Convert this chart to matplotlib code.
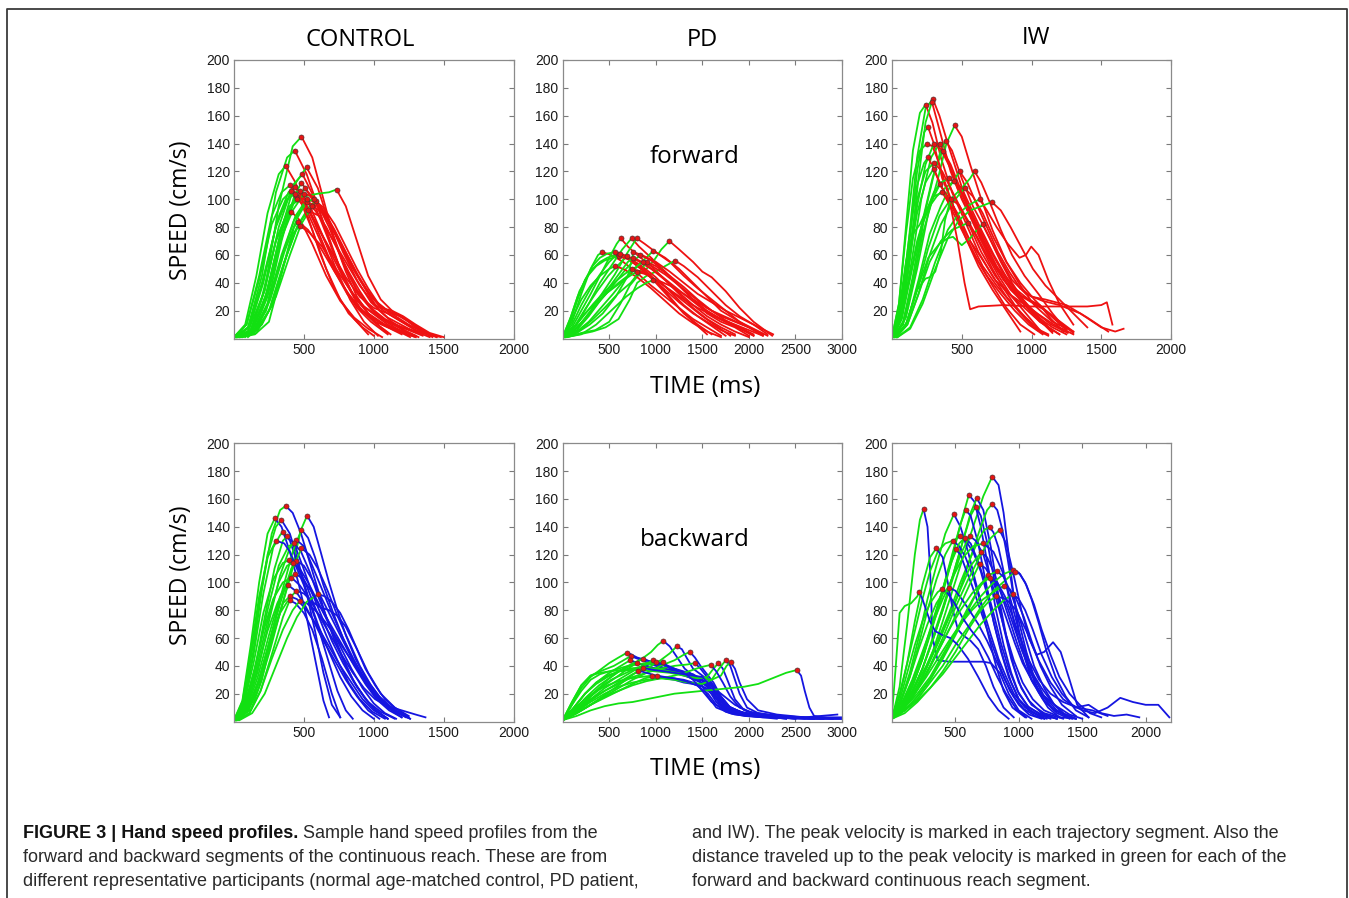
import matplotlib
matplotlib.use("Agg")
import matplotlib.pyplot as plt
import numpy as np
from matplotlib.lines import Line2D

# ---------------- data ----------------
# Each curve: list of times (ms) and matching speeds (cm/s)
CTRL_FWD_T = [
    [20,120,220,320,420,483,560,640,720,800,880,960,1040,1120],
    [10,100,200,300,380,435,520,600,700,800,900,1000,1100],
    [0,80,160,240,320,370,440,520,620,720,820,920,1000],
    [30,130,230,330,430,519,600,690,790,890,990,1100,1250],
    [20,120,220,320,420,490,570,660,760,860,960,1060,1200],
    [40,140,240,340,430,483,560,660,760,860,960,1080,1300],
    [0,100,200,300,400,500,600,680,734,800,880,960,1050,1150,1250,1350,1450],
    [30,130,230,330,430,509,590,680,780,880,980,1080,1200,1350],
    [10,110,210,310,390,435,500,580,680,780,880,980,1100],
    [40,140,240,340,410,447,520,610,710,810,910,1010,1150,1300],
    [60,160,260,360,460,540,590,680,780,880,980,1100,1250,1400],
    [20,120,220,300,370,411,480,560,660,760,860,960,1060],
    [80,180,280,380,430,459,530,620,720,820,920,1020,1150,1300],
    [50,150,250,350,420,470,540,630,730,830,930,1030,1150,1300,1480],
    [100,200,300,400,480,560,640,740,840,940,1040,1140,1250,1400],
    [10,110,210,310,400,470,540,630,730,830,930,1030],
    [30,130,230,330,430,520,600,700,800,900,1000,1100,1200,1300,1420],
    [50,150,250,350,450,530,610,700,800,900,1000,1100,1200,1350],
    [0,90,180,270,340,400,470,560,660,760,860,960],
    [20,120,220,320,400,450,520,600,700,800,900,1000,1100,1200,1300,1450],
    [40,140,240,340,440,520,580,650,730,810,890,970,1050,1130,1210,1300,1400,1500],
    [0,100,200,300,380,440,500,580,660,740,820,900,980,1060,1150,1250],
    [60,160,260,360,450,520,570,640,720,800,880,960,1040,1120,1200,1280,1380],
    [30,130,230,330,420,500,560,640,720,800,880,960,1040,1130,1220,1320],
    [0,90,180,270,350,410,470,540,620,700,780,860,940,1020,1100,1180,1260],
]
CTRL_FWD_V = [
    [1,6,35,95,138,145,130,100,70,48,30,18,9,3],
    [1,8,45,105,130,135,118,95,65,40,22,12,4],
    [1,10,45,90,118,124,112,90,60,35,18,8,2],
    [1,5,30,75,110,123,108,80,52,32,20,12,4],
    [1,6,35,80,110,118,102,78,50,30,18,10,3],
    [1,4,25,70,102,112,100,75,50,30,18,10,2],
    [1,5,30,70,95,102,104,105,107,95,70,45,28,18,12,6,1],
    [1,6,30,70,98,108,98,80,55,35,22,14,8,2],
    [1,8,40,85,105,109,100,82,58,38,22,12,3],
    [1,5,30,72,96,102,92,72,50,32,20,12,6,1],
    [1,4,22,55,82,95,99,85,62,42,26,15,7,1],
    [1,6,35,70,88,91,84,68,45,27,15,7,1],
    [1,8,25,62,80,84,78,65,48,32,20,13,6,1],
    [1,3,12,50,75,81,76,66,50,35,23,16,10,5,1],
    [1,10,30,60,82,95,90,72,52,36,24,17,10,2],
    [1,8,42,85,103,106,96,75,50,28,12,2],
    [1,4,20,55,85,98,95,80,60,42,28,20,16,8,1],
    [1,5,20,52,80,92,88,72,55,38,25,18,12,3],
    [1,10,45,88,105,110,100,78,50,28,14,3],
    [1,5,28,70,95,100,94,80,62,44,30,22,18,12,6,1],
    [1,5,25,60,88,100,98,90,75,60,45,32,22,20,16,10,4,1],
    [1,8,40,80,100,104,100,92,80,64,48,34,22,14,8,2],
    [1,6,28,62,86,98,100,94,82,66,50,36,24,18,16,10,3],
    [1,7,32,70,92,104,102,92,78,62,46,32,20,12,6,1],
    [1,10,42,82,100,106,102,92,76,60,44,30,22,16,10,5,1],
]

PD_FWD_T = [
    [0,100,200,300,380,426,520,650,800,950,1100,1250,1400,1550,1700],
    [0,100,200,300,400,500,580,623,700,800,950,1100,1250,1400,1550,1700,1850],
    [20,150,280,400,520,640,741,820,950,1100,1250,1400,1550,1700,1850,2000],
    [30,160,300,430,560,680,795,880,1000,1150,1300,1450,1600,1750,1900,2050,2200],
    [50,200,350,500,620,720,820,900,980,1060,1146,1250,1400,1500,1600,1750,1900,2050,2250],
    [0,120,240,360,480,600,720,850,974,1100,1250,1400,1550,1700,1850,2000,2150],
    [40,180,320,460,600,720,800,900,1000,1100,1207,1300,1450,1600,1750,1900,2050,2200],
    [0,100,200,300,400,500,591,700,850,1000,1150,1300,1450,1600,1750],
    [10,130,250,370,490,600,688,800,950,1100,1250,1400,1550,1700,1850,2000],
    [20,150,280,410,540,680,830,950,1100,1250,1400,1550,1700,1850,2000,2150],
    [0,100,200,300,400,500,562,650,800,950,1100,1250,1400,1550,1700],
    [30,170,310,450,590,730,850,902,1000,1150,1300,1450,1600,1750,1900,2050],
    [0,120,240,360,480,600,700,795,900,1050,1200,1350,1500,1650,1800],
    [0,90,180,270,360,450,540,600,700,850,1000,1150,1300,1450,1600],
    [10,150,290,430,570,700,760,850,1000,1150,1300,1450,1600,1750,1900,2050,2200,2260],
    [0,110,220,330,440,550,660,740,850,1000,1150,1300,1450,1600,1750,1900,2050],
    [40,200,360,520,680,800,900,974,1050,1150,1300,1450,1600,1800,2000,2150],
    [0,80,160,240,320,400,480,560,660,800,950,1100,1250,1400,1550],
    [0,80,160,240,320,400,480,560,620,700,800,950,1100,1250,1400,1550,1700,1850],
    [0,120,240,360,480,600,700,760,850,1000,1150,1300,1450,1600,1750,1900,2050],
    [20,150,280,410,540,660,760,860,960,1100,1250,1400,1550,1700,1850,2000,2150],
]
PD_FWD_V = [
    [1,12,32,50,60,62,60,55,47,38,30,22,14,8,2],
    [1,8,20,32,45,58,68,72,66,60,52,42,32,22,14,8,3],
    [1,10,25,40,52,64,72,66,58,48,38,28,18,12,8,2],
    [1,8,20,33,46,60,72,68,62,55,45,36,28,20,12,7,2],
    [1,4,6,12,25,38,46,50,56,64,70,64,55,48,44,34,22,12,2],
    [1,6,14,24,33,40,46,55,63,58,50,40,30,20,14,8,3],
    [1,3,5,8,14,28,40,45,48,52,56,52,44,34,24,16,10,3],
    [1,10,24,36,46,55,61,58,52,44,34,24,16,9,2],
    [1,9,22,34,45,53,59,56,50,42,33,24,16,10,5,1],
    [1,6,16,28,38,50,60,56,48,38,28,20,14,10,6,2],
    [1,14,28,38,45,50,52,50,44,36,27,18,11,5,1],
    [1,5,13,22,32,40,50,55,52,45,37,28,20,13,8,3],
    [1,8,18,26,33,39,44,48,46,40,32,24,16,9,2],
    [1,16,34,45,52,56,58,59,57,50,40,29,18,10,3],
    [1,4,10,18,30,45,62,60,55,48,40,32,26,20,15,10,5,3],
    [1,7,16,25,33,40,46,50,48,42,35,28,22,17,12,8,2],
    [1,3,10,20,30,36,40,42,41,38,32,26,20,14,8,2],
    [1,12,28,42,52,58,61,62,60,54,45,34,22,12,3],
    [1,14,30,42,50,55,58,60,61,58,52,44,35,26,18,12,6,2],
    [1,6,14,24,35,46,55,58,55,48,40,32,24,17,12,7,2],
    [1,5,12,22,32,42,50,55,52,46,38,30,22,16,12,8,3],
]

IW_FWD_T = [
    [0,60,120,180,240,293,340,400,480,560,650,750,850,950,1050,1150,1250],
    [0,50,100,150,200,241,290,350,430,520,620,720,820,920,1020,1120],
    [10,70,130,190,240,286,340,420,500,600,700,800,900,1000,1100,1200,1300],
    [0,60,120,180,230,258,300,360,440,520,620,720,820,920,1020],
    [20,100,180,260,330,390,449,500,560,640,720,820,920,1020,1150,1300],
    [10,80,150,220,290,350,384,430,500,580,660,760,860,960,1080,1200,1350,1500,1600,1660],
    [0,70,140,210,280,341,400,470,550,630,720,820,920,1040,1160,1300],
    [0,80,160,240,310,365,420,500,580,660,750,850,950,1060,1200],
    [0,60,120,180,230,258,300,360,430,500,580,680,780,880,980,1080],
    [0,60,120,180,240,298,340,400,480,560,640,740,840,940,1040,1140,1260],
    [30,110,190,270,350,420,485,540,600,680,760,840,920,1000,1100,1250,1400,1550],
    [20,100,180,260,340,420,500,560,592,640,700,780,860,950,1050,1150,1250],
    [0,70,140,210,270,320,380,444,500,560,640,730,820,920,1030,1150],
    [0,50,100,150,200,260,300,341,400,480,560,650,750,850,960,1080],
    [30,110,190,270,350,420,470,520,580,650,730,820,920,1020,1120,1250],
    [40,130,220,310,400,480,540,590,628,680,750,830,914,960,998,1050,1120,1200,1300],
    [40,130,220,310,400,480,560,640,716,780,850,930,1010,1100,1200,1300,1400],
    [20,100,180,260,340,400,437,500,560,610,651,700,780,860,940,1040,1150],
    [30,110,190,270,350,430,500,544,600,680,770,860,960,1060],
    [0,60,120,180,240,300,360,420,470,520,560,620,800,1000,1200,1400,1500,1540,1580],
    [20,100,180,240,270,310,350,380,420,480,550,640,740,840,950,1060,1200],
    [0,50,100,150,200,250,290,330,380,450,530,620,720,820,920],
    [0,60,120,180,240,300,350,420,500,580,660,740,820,900,980,1060,1140,1230],
    [10,80,150,220,290,350,410,470,540,620,700,790,880,980,1080,1180,1300],
    [0,60,120,180,240,300,360,420,480,560,640,720,800,880,960,1040,1120],
]
IW_FWD_V = [
    [1,20,70,130,165,172,160,140,115,90,70,50,35,25,15,8,3],
    [1,25,80,135,162,168,155,130,105,85,62,45,30,18,8,3],
    [1,15,60,115,155,170,150,120,100,80,58,42,32,26,20,12,4],
    [1,18,65,120,148,152,140,115,95,75,55,38,22,10,3],
    [1,15,50,90,115,140,153,145,125,100,78,55,38,24,12,5],
    [1,12,45,85,115,135,142,135,115,95,80,60,42,32,27,24,18,8,5,7],
    [1,15,55,100,130,140,128,108,90,72,55,40,28,18,10,3],
    [1,10,45,92,122,135,125,105,88,70,52,38,24,12,3],
    [1,20,70,110,126,130,122,108,92,78,62,45,32,20,10,3],
    [1,15,55,90,112,122,112,100,85,70,58,42,32,25,18,10,4],
    [1,12,42,75,95,110,120,112,98,80,62,48,36,30,28,24,15,5],
    [1,10,35,65,88,100,108,115,120,112,98,78,60,45,32,18,6],
    [1,14,48,80,95,102,108,113,108,95,78,60,44,30,18,5],
    [1,20,55,75,82,95,105,111,102,88,70,52,38,26,15,4],
    [1,10,32,60,82,95,102,108,102,90,72,55,40,28,18,6],
    [1,8,28,55,78,90,95,98,100,92,80,68,58,60,66,60,42,25,10],
    [1,7,25,50,72,85,92,95,98,92,80,65,50,38,28,18,8],
    [1,10,35,58,68,72,73,67,72,78,82,72,55,40,28,15,4],
    [1,10,32,55,70,78,81,83,75,60,44,30,18,6],
    [1,12,40,70,90,102,105,95,70,40,21,23,24,23,23,23,24,26,10],
    [1,10,35,43,44,48,62,85,100,96,82,62,45,32,22,12,3],
    [1,25,75,115,135,140,138,128,112,92,72,52,35,20,5],
    [1,14,50,95,125,140,136,122,104,86,68,52,40,32,28,24,14,5],
    [1,12,40,75,100,112,115,110,96,80,64,48,36,28,22,14,5],
    [1,18,60,100,120,126,120,108,96,82,66,50,36,24,14,6,2],
]

CTRL_BWD_T = [
    [0,60,130,200,270,330,370,420,480,540,600,660,720,800,880,960,1050,1150],
    [0,60,120,180,240,292,340,400,460,520,580,640,680],
    [0,60,120,180,240,300,339,400,460,520,580,640,700,760],
    [20,100,180,260,340,420,480,523,570,620,680,740,800,870,950,1040,1140,1250],
    [0,70,140,210,280,330,351,400,460,530,600,680,760,840,920,1000],
    [10,80,150,220,290,350,380,430,490,560,630,700,780,860,940,1020,1100],
    [20,100,180,260,340,420,483,530,580,640,710,780,860,940,1020,1100,1200],
    [10,90,170,250,330,400,447,500,560,630,700,780,860,950,1050,1150,1260],
    [0,80,160,240,320,390,430,480,540,610,690,770,850,930,1010,1100],
    [0,70,140,210,280,350,394,450,510,580,660,740,820,900,990,1080],
    [20,100,180,260,340,410,447,500,560,630,710,790,870,950,1030,1120,1230],
    [0,70,140,210,280,350,411,470,540,610,690,770,850,930,1010,1100,1200,1300,1370],
    [0,80,160,240,310,360,387,440,500,570,640,720,800,880,960,1040],
    [30,110,190,270,350,410,447,500,560,620,680,740,800,880,960,1050,1150,1250],
    [0,60,120,200,280,350,399,450,520,600,680,760,840,920,1000,1100],
    [10,90,170,250,330,380,399,440,500,560,630,700,760],
    [30,110,190,270,350,420,471,520,580,650,720,800,880,960,1050,1150,1240],
    [40,130,220,300,380,450,520,602,650,700,760,820,880,940,1010,1080,1150,1250],
    [0,60,120,180,240,300,360,400,450,500,560,620,680,740,800,850],
    [20,100,180,260,340,420,483,540,600,670,740,820,900,980,1060,1150,1260],
    [0,80,160,240,320,380,420,470,530,600,680,760,840,920,1000,1080,1160],
    [10,90,170,250,330,400,440,490,550,620,700,780,860,940,1020,1110,1200],
]
CTRL_BWD_V = [
    [1,10,45,95,135,152,155,150,135,115,95,75,58,40,25,14,7,2],
    [1,15,55,100,135,146,140,122,100,75,45,15,3],
    [1,12,45,85,120,140,145,135,115,92,65,35,12,3],
    [1,8,28,55,82,112,138,148,140,122,100,80,62,45,30,18,9,3],
    [1,12,48,92,125,134,136.5,130,112,90,70,50,32,18,8,2],
    [1,10,38,75,110,130,133,128,112,92,75,58,42,28,16,8,2],
    [1,8,30,60,92,122,138,132,118,98,78,60,44,30,18,10,3],
    [1,10,36,72,105,125,130.5,126,112,95,78,60,42,26,14,8,2],
    [1,12,42,80,112,126,128,122,108,88,68,48,30,18,8,2],
    [1,12,42,78,102,114,116,112,100,82,62,44,28,16,7,2],
    [1,8,30,60,88,110,115.5,112,102,88,72,56,40,28,18,9,3],
    [1,10,35,65,88,100,103.5,98,88,76,62,48,35,24,16,11,8,5,3],
    [1,10,35,65,85,95,98,94,85,72,58,44,30,18,8,2],
    [1,6,22,48,75,90,94,92,86,82,80,76,68,52,35,20,10,3],
    [1,8,8,30,65,85,90,88,80,68,54,40,28,16,8,2],
    [1,8,28,55,78,86,87,85,78,66,45,20,3],
    [1,6,22,45,66,80,86.7,85,80,72,62,50,38,26,16,8,3],
    [1,6,20,40,60,75,86,91.5,90,86,78,66,52,38,26,16,10,4],
    [1,14,50,90,118,130,128,122,110,98,80,62,42,22,8,2],
    [1,7,25,52,82,110,124.5,120,110,94,76,58,40,26,15,7,2],
    [1,10,38,72,100,112,114,110,100,86,70,54,38,24,13,6,2],
    [1,9,32,62,90,104,106,103,94,82,68,54,40,27,16,8,3],
]

PD_BWD_T = [
    [0,100,200,300,400,500,600,694,800,950,1100,1250,1400,1550,1700,1850,2000,2200,2500,2800,3000],
    [0,100,200,300,400,550,730,850,1000,1150,1300,1450,1600,1700,1800,1950,2150,2400],
    [0,120,240,360,480,600,723,850,1000,1150,1300,1450,1550,1650,1750,1900,2100,2400,2700],
    [0,150,300,450,600,700,795,900,1050,1200,1350,1500,1600,1700,1850,2000,2300,2600,2900],
    [0,130,260,390,520,650,760,866,980,1100,1250,1400,1550,1650,1750,1850,2000,2250,2500,2800],
    [0,150,300,450,600,750,880,974,1100,1250,1400,1500,1600,1700,1800,1950,2150,2400,2700,3000],
    [0,120,240,360,480,600,720,850,950,1020,1081,1150,1230,1310,1400,1480,1560,1650,1800,2000,2300],
    [0,150,300,450,600,750,900,1050,1150,1224,1280,1330,1400,1480,1560,1650,1750,1900,2100,2400],
    [0,150,300,450,600,750,900,1050,1200,1300,1367,1420,1480,1550,1620,1700,1800,1950,2150,2500,2900],
    [0,150,300,450,600,750,900,1050,1200,1340,1421,1480,1550,1620,1700,1800,1950,2200,2500],
    [0,130,260,390,520,650,780,900,1000,1074,1150,1250,1350,1450,1550,1650,1750,1900,2100,2400,2800],
    [0,150,300,450,600,720,812,900,1000,1100,1200,1300,1450,1600,1700,1800,1950,2200,2500],
    [0,150,300,450,600,750,880,1010,1100,1200,1300,1400,1500,1600,1700,1800,2000,2300,2700],
    [0,120,240,360,480,600,720,850,1000,1150,1300,1450,1550,1620,1672,1720,1780,1850,1950,2100,2400,2800],
    [0,150,300,450,600,750,900,1050,1200,1350,1500,1600,1680,1751,1800,1850,1900,1980,2100,2300,2600,3000],
    [0,120,240,360,480,600,720,850,1000,1150,1300,1450,1600,1700,1760,1804,1850,1900,1980,2100,2300,2600,2950],
    [0,150,300,450,600,750,900,1050,1200,1350,1480,1590,1650,1720,1800,1900,2050,2300,2600],
    [0,150,300,450,600,750,900,1050,1200,1350,1500,1650,1800,1950,2100,2250,2400,2513,2560,2600,2650,2700,2800,2900,3000],
    [0,100,200,300,400,500,620,740,860,980,1100,1200,1300,1400,1500,1600,1700,1800,1950,2100,2400],
    [0,120,240,360,480,600,720,840,960,1080,1200,1320,1440,1560,1650,1750,1850,2000,2300,2700],
    [0,100,200,300,400,500,600,700,800,900,1000,1100,1200,1300,1400,1500,1600,1750,1950,2300],
]
PD_BWD_V = [
    [1,12,24,32,37,42,46,49.6,46,43,40,36,33,28,20,12,7,5,3,2,2],
    [1,14,26,33,36,40,47,44,40,37,34,31,26,16,9,6,4,2],
    [1,10,20,28,34,39,44,41,38,36,33,30,25,14,8,5,4,3,2],
    [1,8,18,26,33,38,42,40,37,35,33,30,22,12,7,5,4,3,2],
    [1,9,18,26,32,38,42,45,42,38,35,32,28,18,10,6,5,3,2,2],
    [1,8,16,24,30,36,41,44,40,37,34,30,22,12,6,4,3,3,2,2],
    [1,6,14,22,30,36,40,45,50,55,58,54,46,38,33,28,18,10,6,4,2],
    [1,7,15,22,28,34,38,44,49,54,52,46,38,34,30,22,12,7,4,3],
    [1,6,12,18,24,30,35,40,44,48,50,46,40,34,28,18,10,6,4,3,2],
    [1,8,16,22,27,32,35,38,40,41,42,38,32,26,18,10,6,4,2],
    [1,8,16,24,30,34,38,41,42,43,38,35,32,29,26,20,12,7,4,3,2],
    [1,6,12,19,26,32,36.6,35,33,32,31,30,27,22,14,9,6,4,2],
    [1,6,12,18,22,27,31,33,31,30,28,27,25,20,12,7,4,3,2],
    [1,10,20,28,33,36,37,37,36,35,33,31,32,38,42,38,28,16,8,5,3,2],
    [1,7,14,20,25,28,30,31,30,28,27,30,38,44,40,30,20,10,6,4,3,3],
    [1,10,20,27,32,36,38,39,38,36,34,32,30,33,40,42.6,38,28,16,8,5,3,5],
    [1,6,12,17,22,26,29,31,33,36,39,40.7,36,28,18,10,6,4,2],
    [1,4,8,11,13,14,16,18,20,21,22,23,24,25,27,31,35,37,33,22,10,4,3,2,2],
    [1,12,22,30,34,36,37,38,38.5,37,36,35,34,33,32,25,15,9,6,4,2],
    [1,9,16,22,26,29,31,32,33,32,31,29,26,20,12,7,5,4,3,2],
    [1,14,26,33,35,36,38,40,41,42,42.5,41,38,35,30,22,14,8,5,3],
]

IW_BWD_T = [
    [0,80,160,240,320,400,480,560,640,720,790,840,880,920,960,1000,1050,1100,1200,1300,1400],
    [0,80,160,240,320,400,480,550,606,650,700,760,820,880,940,1000,1080,1180,1300],
    [0,80,160,240,320,400,480,560,620,669,720,780,840,900,960,1020,1100,1200,1350],
    [0,60,120,180,220,249,280,300,320,360,450,550,650,720,780,850,920,1000,1100],
    [0,70,140,210,280,350,420,488,540,600,660,720,780,840,900,960,1050,1150,1250],
    [0,80,160,240,320,400,480,560,620,659,700,760,820,880,940,1000,1080,1180,1300],
    [0,80,160,240,320,400,480,540,580,620,680,740,800,860,920,1000,1100,1200],
    [0,90,180,270,360,450,540,620,700,750,790,830,870,910,950,1000,1060,1120,1200,1300,1420],
    [0,90,180,270,360,450,540,620,690,730,769,800,840,880,920,960,1010,1080,1160,1260,1400],
    [0,70,140,210,280,350,420,480,533,580,640,700,760,820,880,940,1000,1080,1200],
    [0,60,120,180,240,300,360,420,480,530,580,640,700,760,820,880,950,1050],
    [0,80,160,240,320,400,470,530,572,620,680,740,800,860,920,990,1070,1170,1300],
    [0,80,160,240,320,400,470,540,612,660,720,780,840,900,960,1030,1110,1200,1330,1450],
    [0,60,120,180,240,300,349,400,440,480,520,560,620,680,740,800,880,960],
    [0,80,160,240,320,400,460,501,540,580,630,690,750,810,870,930,1000,1080,1180],
    [0,90,180,270,360,450,540,620,704,750,800,860,920,980,1040,1110,1190,1280,1400],
    [0,90,180,270,360,450,540,620,690,740,790,850,910,970,1030,1100,1180,1280,1400,1500],
    [0,100,200,300,400,500,600,680,756,800,850,910,970,1030,1100,1180,1260,1350,1450],
    [0,100,200,300,400,500,600,700,800,880,958,1000,1050,1100,1160,1220,1290,1370,1450,1550],
    [0,100,200,300,400,500,600,700,800,900,971,1010,1060,1120,1180,1250,1320,1400,1480,1560,1650],
    [0,90,180,270,360,450,540,630,720,800,850,887,930,980,1040,1100,1170,1250,1340,1450],
    [0,70,140,210,280,350,400,449,500,550,610,680,750,820,890,960,1040,1130,1220],
    [0,30,60,100,150,200,213,240,270,300,340,400,460,520,600,680,760,840,920],
    [0,100,200,300,400,500,600,700,800,880,953,1000,1050,1110,1180,1260,1340,1420,1500,1600,1700,1800,1900,2000,2100,2187],
    [0,100,200,300,400,500,600,700,760,820,900,980,1060,1150,1250,1350,1450,1550,1650,1750,1850,1950],
    [0,100,200,300,400,500,600,700,780,848,900,960,1020,1080,1140,1200,1270,1330,1400,1460,1550],
    [0,60,120,180,240,300,360,396,440,500,560,620,690,760,830,900,980,1060],
    [0,100,200,300,400,500,600,700,780,830,880,940,1000,1060,1120,1200,1280,1360,1450],
    [0,80,160,240,320,400,480,560,640,720,800,870,940,1010,1080,1150,1230,1320],
    [0,90,180,270,360,450,540,630,710,770,830,890,950,1010,1080,1160,1250,1350,1460,1580,1700],
]
IW_BWD_V = [
    [2,8,18,32,50,72,95,118,140,162,176,170,150,120,90,65,45,30,15,6,2],
    [2,10,25,45,70,95,120,145,163,158,140,110,80,55,35,20,10,5,2],
    [2,8,20,38,60,82,105,130,150,160.5,152,125,90,62,40,24,12,6,2],
    [2,25,70,120,145,152.8,140,110,60,44,43,43,43,43,42,35,20,8,2],
    [3,15,35,60,88,112,135,149,140,122,100,80,62,45,32,20,10,5,2],
    [2,10,22,38,58,80,105,130,148,154.5,148,125,95,68,45,28,15,6,2],
    [2,12,25,45,70,95,122,142,152,148,128,100,72,50,32,16,7,2],
    [2,10,22,38,56,75,96,118,140,152,156.4,152,138,118,95,72,50,32,18,8,2],
    [3,12,25,40,58,78,100,118,132,138,139.6,136,125,108,90,72,55,38,22,10,3],
    [3,15,32,55,80,102,120,130,133,130,122,108,88,65,45,28,16,8,2],
    [3,20,42,65,88,108,122,128,130,126,118,104,85,62,40,22,10,3],
    [2,12,28,48,72,95,115,128,132,128,115,98,78,56,38,22,11,5,2],
    [2,10,22,38,58,80,100,120,133.4,130,120,102,82,62,44,28,16,8,3,2],
    [3,18,42,72,98,118,124.5,118,100,80,66,62,58,52,40,25,10,3],
    [2,12,26,45,68,92,112,123.8,120,110,98,82,66,50,35,22,12,5,2],
    [2,10,22,38,56,75,95,112,121.7,118,108,92,75,58,42,28,16,8,3],
    [3,10,20,34,50,66,84,100,113.3,110,102,88,72,56,42,30,20,12,5,2],
    [2,8,18,30,45,62,80,95,105.4,102,95,82,66,50,36,24,14,6,2],
    [3,10,20,32,48,64,78,90,100,106,109,107,100,88,70,50,32,18,8,3],
    [2,8,16,28,40,55,68,82,94,102,107.8,106,98,84,66,48,32,20,12,6,3],
    [2,10,20,32,45,58,70,80,88,93,96,97.7,95,88,75,58,40,25,12,4],
    [3,14,32,52,70,85,92,96.3,94,88,80,70,58,44,30,18,9,4,2],
    [5,40,78,83,85,90,93.4,88,80,72,65,62,60,55,45,32,18,8,2],
    [3,8,15,24,34,46,58,70,80,87,91.7,88,80,66,48,32,20,12,8,6,10,17,14,12,12,3],
    [2,6,14,24,36,50,66,80,86,90,88,80,65,45,28,16,10,12,6,4,5,3],
    [2,10,24,40,60,82,102,120,132,137.7,128,105,80,60,48,50,57,50,30,12,3],
    [3,15,35,55,72,85,93,95.3,92,84,74,66,58,46,32,20,9,3],
    [2,8,18,30,46,64,82,98,106,108,104,92,76,58,40,24,12,5,2],
    [3,14,30,50,70,88,104,118,126,128,122,108,86,62,40,22,10,3],
    [2,9,20,34,50,66,80,92,100,103,100,90,76,60,44,30,20,14,10,8,4],
]

GROUP_TITLES = ["CONTROL", "PD", "IW"]
YTICKS = [20, 40, 60, 80, 100, 120, 140, 160, 180, 200]
XTICKS_2000 = [500, 1000, 1500, 2000]
XTICKS_3000 = [500, 1000, 1500, 2000, 2500, 3000]
CAPTION_BOLD = "FIGURE 3 | Hand speed profiles."
CAPTION_LEFT = [" Sample hand speed profiles from the",
                "forward and backward segments of the continuous reach. These are from",
                "different representative participants (normal age-matched control, PD patient,"]
CAPTION_RIGHT = ["and IW). The peak velocity is marked in each trajectory segment. Also the",
                 "distance traveled up to the peak velocity is marked in green for each of the",
                 "forward and backward continuous reach segment."]

# ---------------- figure ----------------
W, H = 1349, 898
fig = plt.figure(figsize=(W / 100, H / 100), dpi=100)
fig.patch.set_facecolor("white")

GREEN = "#12e012"
RED = "#ee1111"
BLUE = "#1515e0"
TICKFONT = ["Liberation Sans", "DejaVu Sans"]
LABELFONT = ["Open Sans", "DejaVu Sans"]


def px_axes(x0, y0, x1, y1):
    return fig.add_axes([x0 / W, 1 - y1 / H, (x1 - x0) / W, (y1 - y0) / H])


def draw_panel(ax, T, V, col, xmax, xticks):
    for t, v in zip(T, V):
        n = min(len(t), len(v))
        t = np.asarray(t[:n], float)
        v = np.asarray(v[:n], float)
        k = int(np.argmax(v))
        ax.plot(t[:k + 1], v[:k + 1], color=GREEN, lw=1.3, solid_joinstyle="round", zorder=2)
        ax.plot(t[k:], v[k:], color=col, lw=1.3, solid_joinstyle="round", zorder=2)
        ax.plot([t[k]], [v[k]], "o", ms=3.6, mfc="#e61414", mec="#553030", mew=0.5, zorder=4)
    ax.set_xlim(0, xmax)
    ax.set_ylim(0, 200)
    ax.set_xticks(xticks)
    ax.set_yticks(YTICKS)
    ax.set_xticklabels([str(x) for x in xticks], fontfamily=TICKFONT, fontsize=10, color="#1a1a1a")
    ax.set_yticklabels([str(y) for y in YTICKS], fontfamily=TICKFONT, fontsize=10, color="#1a1a1a")
    ax.tick_params(direction="in", top=True, right=True, length=3.5, width=0.8,
                   color="#7a7a7a", pad=3)
    for s in ax.spines.values():
        s.set_color("#8a8a8a")
        s.set_linewidth(0.9)


cols_px = [(234, 513.5), (562.7, 842), (892, 1171)]
rows_px = [(60, 338.5), (443.3, 721.5)]

panels = [
    (0, 0, CTRL_FWD_T, CTRL_FWD_V, RED, 2000, XTICKS_2000),
    (0, 1, PD_FWD_T, PD_FWD_V, RED, 3000, XTICKS_3000),
    (0, 2, IW_FWD_T, IW_FWD_V, RED, 2000, XTICKS_2000),
    (1, 0, CTRL_BWD_T, CTRL_BWD_V, BLUE, 2000, XTICKS_2000),
    (1, 1, PD_BWD_T, PD_BWD_V, BLUE, 3000, XTICKS_3000),
    (1, 2, IW_BWD_T, IW_BWD_V, BLUE, 2200, XTICKS_2000),
]
for r, c, T, V, col, xmax, xt in panels:
    x0, x1 = cols_px[c]
    y0, y1 = rows_px[r]
    ax = px_axes(x0, y0, x1, y1)
    draw_panel(ax, T, V, col, xmax, xt)


def ftext(x, y, s, **kw):
    return fig.text(x / W, 1 - y / H, s, **kw)


# titles
for s, (x, y) in zip(GROUP_TITLES, [(360, 40), (702, 40), (1036, 38)]):
    ftext(x, y, s, ha="center", va="center", fontsize=17, family=LABELFONT, color="black")

ftext(695, 157, "forward", ha="center", va="center", fontsize=17.5, family=LABELFONT)
ftext(695, 540, "backward", ha="center", va="center", fontsize=17.5, family=LABELFONT)

for y in (210, 575):
    ftext(181, y, "SPEED (cm/s)", ha="center", va="center", rotation=90, fontsize=16.5,
          family=LABELFONT)
for y in (387, 769):
    ftext(705, y, "TIME (ms)", ha="center", va="center", fontsize=17.5, family=LABELFONT)

# caption
CAPFONT = ["Liberation Sans Narrow", "Liberation Sans", "DejaVu Sans"]
baselines = [838, 862, 886]
tb = ftext(23, baselines[0], CAPTION_BOLD, ha="left", va="baseline", fontsize=13,
           family=CAPFONT, fontweight="bold", color="#111111")
renderer = fig.canvas.get_renderer()
bb = tb.get_window_extent(renderer)
fig.text(bb.x1 / W, 1 - baselines[0] / H, CAPTION_LEFT[0], ha="left", va="baseline",
         fontsize=13, family=CAPFONT, color="#2a2a2a")
for i in (1, 2):
    ftext(23, baselines[i], CAPTION_LEFT[i], ha="left", va="baseline", fontsize=13,
          family=CAPFONT, color="#2a2a2a")
for i in range(3):
    ftext(692, baselines[i], CAPTION_RIGHT[i], ha="left", va="baseline", fontsize=13,
          family=CAPFONT, color="#2a2a2a")

# outer frame
fig.add_artist(Line2D([6.5 / W, 6.5 / W, 1346.5 / W, 1346.5 / W],
                      [0, 1 - 8.5 / H, 1 - 8.5 / H, 0],
                      transform=fig.transFigure, color="#3a3a3a", lw=1.3))

fig.savefig("out.png", dpi=100, facecolor="white")
